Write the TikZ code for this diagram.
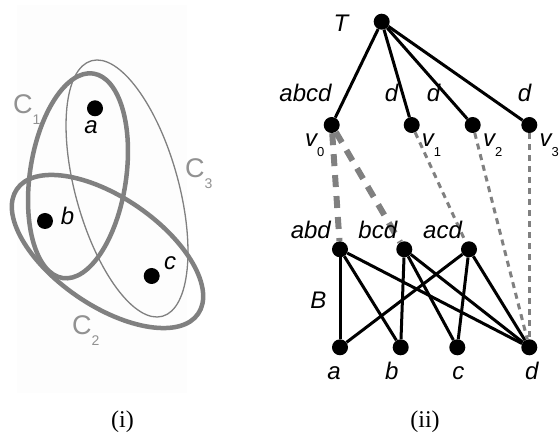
\documentclass[tikz,border=0pt]{standalone}
\usepackage{fontspec}
\newfontfamily\arialsf{Liberation Sans}
\newfontfamily\capserif{Liberation Serif}
\usetikzlibrary{positioning}

\definecolor{setgray}{RGB}{128,128,128}
\definecolor{capgray}{RGB}{145,145,145}
\definecolor{panelgray}{RGB}{253,253,253}
\newcommand{\lowsub}[3]{#1\raisebox{-#3}{\fontsize{13}{13}\selectfont\upshape #2}}

\begin{document}
\begin{tikzpicture}[x=1pt, y=1pt,
    dot/.style={circle, fill=black, inner sep=0pt, minimum size=16pt},
    lbl/.style={font=\arialsf\itshape\fontsize{24}{24}\selectfont, inner sep=0pt, anchor=base},
    caplbl/.style={font=\arialsf\fontsize{27}{27}\selectfont, text=capgray, inner sep=0pt, anchor=base west},
    tedge/.style={line width=3pt},
    thickdash/.style={setgray, line width=6pt, dash pattern=on 12pt off 9pt},
    thindash/.style={setgray, line width=3pt, dash pattern=on 6pt off 5pt},
    setline/.style={setgray, line width=4.5pt},
    panel/.style={font=\capserif\fontsize{24}{24}\selectfont, inner sep=0pt, anchor=base}]
    \useasboundingbox (0,0) rectangle (560,-435);

    % (i) sets
    \fill[panelgray] (17,-5) rectangle (187,-393);
    \draw[setline, shift={(78,-175.8)}, rotate=-8.5] (0,0) ellipse [x radius=48.1, y radius=103.4];
    \draw[setgray, line width=1.3pt, shift={(127,-188.5)}, rotate=-74.5] (0,0) ellipse [x radius=132.6, y radius=51.5];
    \draw[setline, shift={(107.5,-251.5)}, rotate=-34.5] (0,0) ellipse [x radius=110, y radius=54];

    \foreach \n/\x/\y in {pa/95/-108.3, pb/45/-221, pc/151.7/-276}
        \node[dot] (\n) at (\x,\y) {};
    \foreach \n/\x/\y/\t in {lpa/91/-134/a, lpb/67.5/-225/b, lpc/170/-270/c}
        \node[lbl] (\n) at (\x,\y) {\t};
    \foreach \n/\x/\y/\i in {lC1/13/-114/1, lC3/185/-178/3, lC2/72/-335/2}
        \node[caplbl] (\n) at (\x,\y) {\lowsub{C}{\fontsize{14}{14}\selectfont\i}{11pt}};

    % (ii) tree and bipartite graph
    \node[dot] (T) at (381.7,-21.7) {};
    \foreach \n/\x in {v0/331.7, v1/411.7, v2/472.7, v3/529.3}
        \node[dot] (\n) at (\x,-125) {};
    \foreach \n/\x in {abd/340, bcd/404.3, acd/469}
        \node[dot] (\n) at (\x,-249.3) {};
    \foreach \n/\x in {a/340, b/400.7, c/457.3, d/529.3}
        \node[dot] (\n) at (\x,-347.3) {};

    \foreach \n in {v0, v1, v2, v3}
        \draw[tedge] (T) -- (\n);
    \foreach \s/\t in {abd/a, abd/b, abd/d, bcd/b, bcd/c, bcd/d, acd/a, acd/c, acd/d}
        \draw[tedge] (\s) -- (\t);
    \draw[thickdash] (v0) -- (abd);
    \draw[thickdash] (v0) -- (bcd);
    \foreach \s/\t in {v1/acd, v2/d, v3/d}
        \draw[thindash] (\s) -- (\t);

    \foreach \n/\x/\y/\t in {lT/341/-32/T, labcd/305.5/-101.7/abcd, ld1/391.5/-102/d,
        ld2/433.5/-102/d, ld3/524.5/-102/d, labd/310.8/-238.3/abd, lbcd/377.8/-238.3/bcd,
        lacd/442.5/-238.3/acd, lB/318.3/-308.3/B, la/334/-380/a, lb/391.7/-380/b,
        lc/458.3/-380/c, ld/531.7/-380/d}
        \node[lbl] (\n) at (\x,\y) {\t};
    \foreach \n/\x/\i in {lv0/305/0, lv1/421.7/1, lv2/483/2, lv3/539.5/3}
        \node[lbl, anchor=base west] (\n) at (\x,-146.7) {\lowsub{v}{\i}{10pt}};

    % captions
    \node[panel] (capi) at (122.5,-428) {(i)};
    \node[panel] (capii) at (425,-428) {(ii)};
\end{tikzpicture}
\end{document}
